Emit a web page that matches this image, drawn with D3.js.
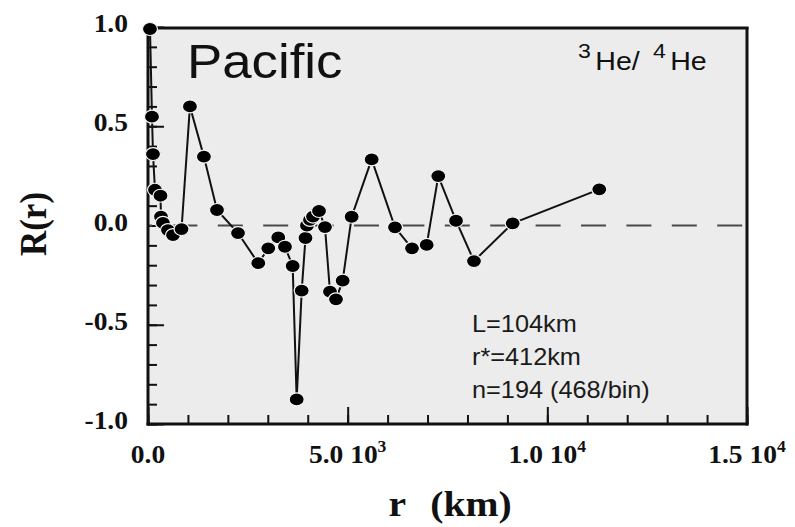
<!DOCTYPE html>
<html>
<head>
<meta charset="utf-8">
<script src="https://cdn.jsdelivr.net/npm/d3@7"></script>
<style>
  html, body { margin: 0; padding: 0; background: #ffffff; }
  svg { display: block; }
</style>
</head>
<body>
<svg id="chart" width="795" height="527"></svg>
<script>
// ---- data ----
const rKm = [50, 100, 125, 175, 313, 325, 375, 500, 626, 840,
             1050, 1400, 1728, 2254, 2762, 3012, 3262, 3430, 3623, 3723,
             3849, 3944, 3981, 4057, 4132, 4282, 4432, 4557, 4708, 4875,
             5100, 5601, 6185, 6611, 6979, 7269, 7713, 8163, 9132, 11301];
const Rr  = [0.99, 0.548, 0.36, 0.18, 0.15, 0.045, 0.013, -0.023, -0.048, -0.018,
             0.60, 0.347, 0.078, -0.038, -0.19, -0.115, -0.06, -0.107, -0.204, -0.876,
             -0.328, -0.063, 0.0, 0.028, 0.045, 0.073, -0.008, -0.333, -0.372, -0.278,
             0.044, 0.333, -0.009, -0.115, -0.098, 0.249, 0.024, -0.179, 0.011, 0.182];

const yTickValues = [1.0, 0.5, 0.0, -0.5, -1.0];
const yTickLabels = ["1.0", "0.5", "0.0", "-0.5", "-1.0"];
const xTickValues = [0, 5000, 10000, 15000];
const xTickMain   = ["0.0", "5.0 10", "1.0 10", "1.5 10"];
const xTickExp    = ["", "3", "4", "4"];
const annotLines  = ["L=104km", "r*=412km", "n=194 (468/bin)"];

// ---- layout ----
const svg = d3.select("#chart");
const x = d3.scaleLinear().domain([0, 15000]).range([148, 747]);
const y = d3.scaleLinear().domain([-1, 1]).range([424, 27]);
const SX = 1.1; // horizontal stretch of the original figure's text
const serif = "'Liberation Serif', 'Times New Roman', serif";
const sans = "'Liberation Sans', Arial, Helvetica, sans-serif";

// plot background
svg.append("rect")
  .attr("x", x(0)).attr("y", y(1))
  .attr("width", x(15000) - x(0)).attr("height", y(-1) - y(1))
  .attr("fill", "#ececec");

// ticks (inward)
const minorY = d3.range(-10, 11).map(d => d / 10);
const minorX = d3.range(0, 16).map(d => d * 1000);
svg.append("g").attr("transform", `translate(${x(0)},0)`)
  .call(d3.axisLeft(y).tickValues(minorY).tickSize(-9).tickFormat(""))
  .call(g => g.select(".domain").remove())
  .call(g => g.selectAll("line").attr("stroke", "#111").attr("stroke-width", 2));
svg.append("g").attr("transform", `translate(${x(0)},0)`)
  .call(d3.axisLeft(y).tickValues(yTickValues).tickSize(-16).tickFormat(""))
  .call(g => g.select(".domain").remove())
  .call(g => g.selectAll("line").attr("stroke", "#111").attr("stroke-width", 2));
svg.append("g").attr("transform", `translate(0,${y(-1)})`)
  .call(d3.axisBottom(x).tickValues(minorX).tickSize(-9).tickFormat(""))
  .call(g => g.select(".domain").remove())
  .call(g => g.selectAll("line").attr("stroke", "#111").attr("stroke-width", 2));
svg.append("g").attr("transform", `translate(0,${y(-1)})`)
  .call(d3.axisBottom(x).tickValues(xTickValues).tickSize(-17).tickFormat(""))
  .call(g => g.select(".domain").remove())
  .call(g => g.selectAll("line").attr("stroke", "#111").attr("stroke-width", 2));

// zero dashed line
svg.append("line")
  .attr("x1", x(0)).attr("x2", x(15000))
  .attr("y1", y(0)).attr("y2", y(0))
  .attr("stroke", "#4a4a4a").attr("stroke-width", 2)
  .attr("stroke-dasharray", "25,20.4").attr("stroke-dashoffset", 21);

// frame
const frame = svg.append("g").attr("stroke", "#111").attr("stroke-width", 3).attr("fill", "none");
frame.append("line").attr("x1", x(0)).attr("x2", x(0)).attr("y1", y(1)).attr("y2", y(-1) + 1.5);
frame.append("line").attr("x1", x(0) - 1.5).attr("x2", x(15000) + 1.5).attr("y1", y(-1)).attr("y2", y(-1));
frame.append("line").attr("x1", x(0)).attr("x2", x(15000) + 1.5).attr("y1", y(1) + 1).attr("y2", y(1) + 1);
frame.append("line").attr("x1", x(15000)).attr("x2", x(15000)).attr("y1", y(1)).attr("y2", y(-1) + 1.5);

// data line + markers
const pts = rKm.map((r, i) => ({ r, v: Rr[i] }));
svg.append("path")
  .datum(pts)
  .attr("fill", "none").attr("stroke", "#111").attr("stroke-width", 2)
  .attr("d", d3.line().x(d => x(d.r)).y(d => y(d.v)));
svg.append("g").selectAll("ellipse").data(pts).join("ellipse")
  .attr("cx", d => x(d.r)).attr("cy", d => y(d.v))
  .attr("rx", 7.5).attr("ry", 6.5)
  .attr("fill", "#000").attr("stroke", "#f4f4f4").attr("stroke-width", 1.2);

// helper for horizontally stretched text
function stext(px, py, anchor) {
  return svg.append("g").attr("transform", `translate(${px},${py}) scale(${SX},1)`)
    .append("text").attr("text-anchor", anchor);
}

// y tick labels
yTickValues.forEach((v, i) => {
  stext(128, y(v) + 5, "end").text(yTickLabels[i])
    .attr("font-family", serif).attr("font-weight", "bold").attr("font-size", 25).attr("fill", "#111");
});

// x tick labels
xTickValues.forEach((v, i) => {
  const t = stext(x(v), 463, "middle")
    .attr("font-family", serif).attr("font-weight", "bold").attr("font-size", 25).attr("fill", "#111");
  t.append("tspan").text(xTickMain[i]);
  if (xTickExp[i]) t.append("tspan").text(xTickExp[i]).attr("font-size", 16).attr("dy", -11);
});

// axis titles
svg.append("g").attr("transform", `translate(46,224) rotate(-90) scale(1,${SX})`)
  .append("text").attr("text-anchor", "middle").text("R(r)")
  .attr("font-family", serif).attr("font-weight", "bold").attr("font-size", 35).attr("fill", "#111");
const xt = stext(450, 516, "middle")
  .attr("font-family", serif).attr("font-weight", "bold").attr("font-size", 36).attr("fill", "#111");
xt.append("tspan").text("r");
xt.append("tspan").text("(km)").attr("dx", 22);

// panel title
stext(187, 78, "start").text("Pacific")
  .attr("font-family", sans).attr("font-size", 48).attr("fill", "#111");

// isotope label 3He/ 4He
const iso = stext(578, 70, "start")
  .attr("font-family", sans).attr("font-size", 26).attr("fill", "#111");
iso.append("tspan").text("3").attr("font-size", 21).attr("dy", -12);
iso.append("tspan").text("He/").attr("dy", 12).attr("dx", 4);
iso.append("tspan").text("4").attr("font-size", 21).attr("dy", -12).attr("dx", 12);
iso.append("tspan").text("He").attr("dy", 12).attr("dx", 4);

// annotation block
annotLines.forEach((s, i) => {
  stext(472, 332 + i * 33, "start").text(s)
    .attr("font-family", sans).attr("font-size", 23).attr("fill", "#1a1a1a");
});
</script>
</body>
</html>
